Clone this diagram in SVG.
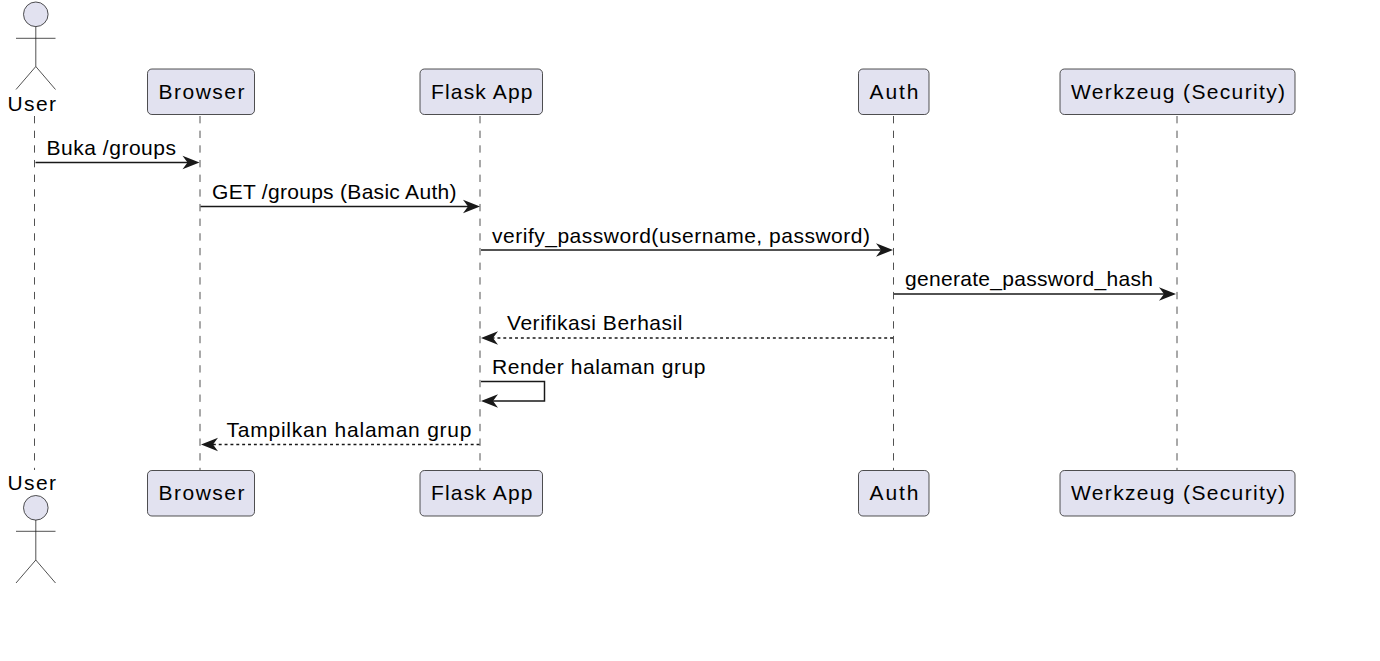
<svg xmlns="http://www.w3.org/2000/svg" width="1380" height="661" viewBox="0 0 1380 661">
<style>
text{font-family:"Liberation Sans",Arial,sans-serif;font-size:21px;fill:#000}
.box{fill:#E2E2F0;stroke:#181818;stroke-width:.75}
.life{stroke:#181818;stroke-width:.75;stroke-dasharray:7.33 7.33;fill:none}
.actor{fill:none;stroke:#181818;stroke-width:.75}
.head{fill:#E2E2F0;stroke:#181818;stroke-width:.75}
.msg{stroke:#181818;stroke-width:1.47;fill:none}
.dot{stroke-dasharray:2.93 2.93}
.arrow{fill:#181818;stroke:none}
</style>
<rect width="1380" height="661" fill="#fff"/>
<g id="lifelines">
<path class="life" d="M34.500 116V470"/>
<path class="life" d="M200 116V470"/>
<path class="life" d="M480 116V470"/>
<path class="life" d="M893.500 116V470"/>
<path class="life" d="M1177 116V470"/>
</g>
<g id="user-top"><circle class="head" cx="35.800" cy="14.300" r="12.300"/><path class="actor" d="M35.800 26.600V66.500M16 38.300H55.500M35.800 66.500L16 89.500M35.800 66.500L55.500 89.500"/><text x="7.500" y="110.500" textLength="48.500" lengthAdjust="spacing">User</text></g>
<g id="browser-top"><rect class="box" x="147.500" y="69" width="107" height="45.500" rx="4.400"/><text x="158.500" y="99" textLength="86" lengthAdjust="spacing">Browser</text></g>
<g id="flask-top"><rect class="box" x="420" y="69" width="122.500" height="45.500" rx="4.400"/><text x="431" y="99" textLength="101.500" lengthAdjust="spacing">Flask App</text></g>
<g id="auth-top"><rect class="box" x="858.500" y="69" width="70.500" height="45.500" rx="4.400"/><text x="869.500" y="99" textLength="49" lengthAdjust="spacing">Auth</text></g>
<g id="werkzeug-top"><rect class="box" x="1060" y="69" width="235" height="45.500" rx="4.400"/><text x="1071" y="99" textLength="214" lengthAdjust="spacing">Werkzeug (Security)</text></g>
<g id="user-bottom"><text x="7.500" y="490" textLength="48.500" lengthAdjust="spacing">User</text><circle class="head" cx="35.800" cy="507.800" r="12.300"/><path class="actor" d="M35.800 520V560M16 531.300H55.500M35.800 560L16 583M35.800 560L55.500 583"/></g>
<g id="browser-bottom"><rect class="box" x="147.500" y="470.500" width="107" height="45.500" rx="4.400"/><text x="158.500" y="500" textLength="86" lengthAdjust="spacing">Browser</text></g>
<g id="flask-bottom"><rect class="box" x="420" y="470.500" width="122.500" height="45.500" rx="4.400"/><text x="431" y="500" textLength="101.500" lengthAdjust="spacing">Flask App</text></g>
<g id="auth-bottom"><rect class="box" x="858.500" y="470.500" width="70.500" height="45.500" rx="4.400"/><text x="869.500" y="500" textLength="49" lengthAdjust="spacing">Auth</text></g>
<g id="werkzeug-bottom"><rect class="box" x="1060" y="470.500" width="235" height="45.500" rx="4.400"/><text x="1071" y="500" textLength="214" lengthAdjust="spacing">Werkzeug (Security)</text></g>
<g id="connectors">
<path class="msg" d="M35.500 162.500H190"/><path class="arrow" d="M199.500 162.500L182.500 155.800L187.500 162.500L182.500 169.200Z"/>
<path class="msg" d="M200.500 206.500H470"/><path class="arrow" d="M480 206.500L463 199.800L468 206.500L463 213.200Z"/>
<path class="msg" d="M481 250H883"/><path class="arrow" d="M893 250L876 243.300L881 250L876 256.700Z"/>
<path class="msg" d="M894 294H1166"/><path class="arrow" d="M1176 294L1159 287.300L1164 294L1159 300.700Z"/>
<path class="msg dot" d="M893 338H490"/><path class="arrow" d="M481 338L498 331.300L493 338L498 344.700Z"/>
<path class="msg" d="M481 381.500H544.500V401H490"/><path class="arrow" d="M481 401L498 394.300L493 401L498 407.700Z"/>
<path class="msg dot" d="M479.500 444.500H210"/><path class="arrow" d="M201 444.500L218 437.800L213 444.500L218 451.200Z"/>
</g>
<g id="labels">
<text x="46.500" y="155" textLength="129.500" lengthAdjust="spacing">Buka /groups</text>
<text x="212" y="199" textLength="244.500" lengthAdjust="spacing">GET /groups (Basic Auth)</text>
<text x="492" y="242.500" textLength="378" lengthAdjust="spacing">verify_password(username, password)</text>
<text x="905" y="286" textLength="248" lengthAdjust="spacing">generate_password_hash</text>
<text x="507" y="330" textLength="175.500" lengthAdjust="spacing">Verifikasi Berhasil</text>
<text x="492" y="374" textLength="213.500" lengthAdjust="spacing">Render halaman grup</text>
<text x="226.500" y="437" textLength="245" lengthAdjust="spacing">Tampilkan halaman grup</text>
</g>
</svg>
